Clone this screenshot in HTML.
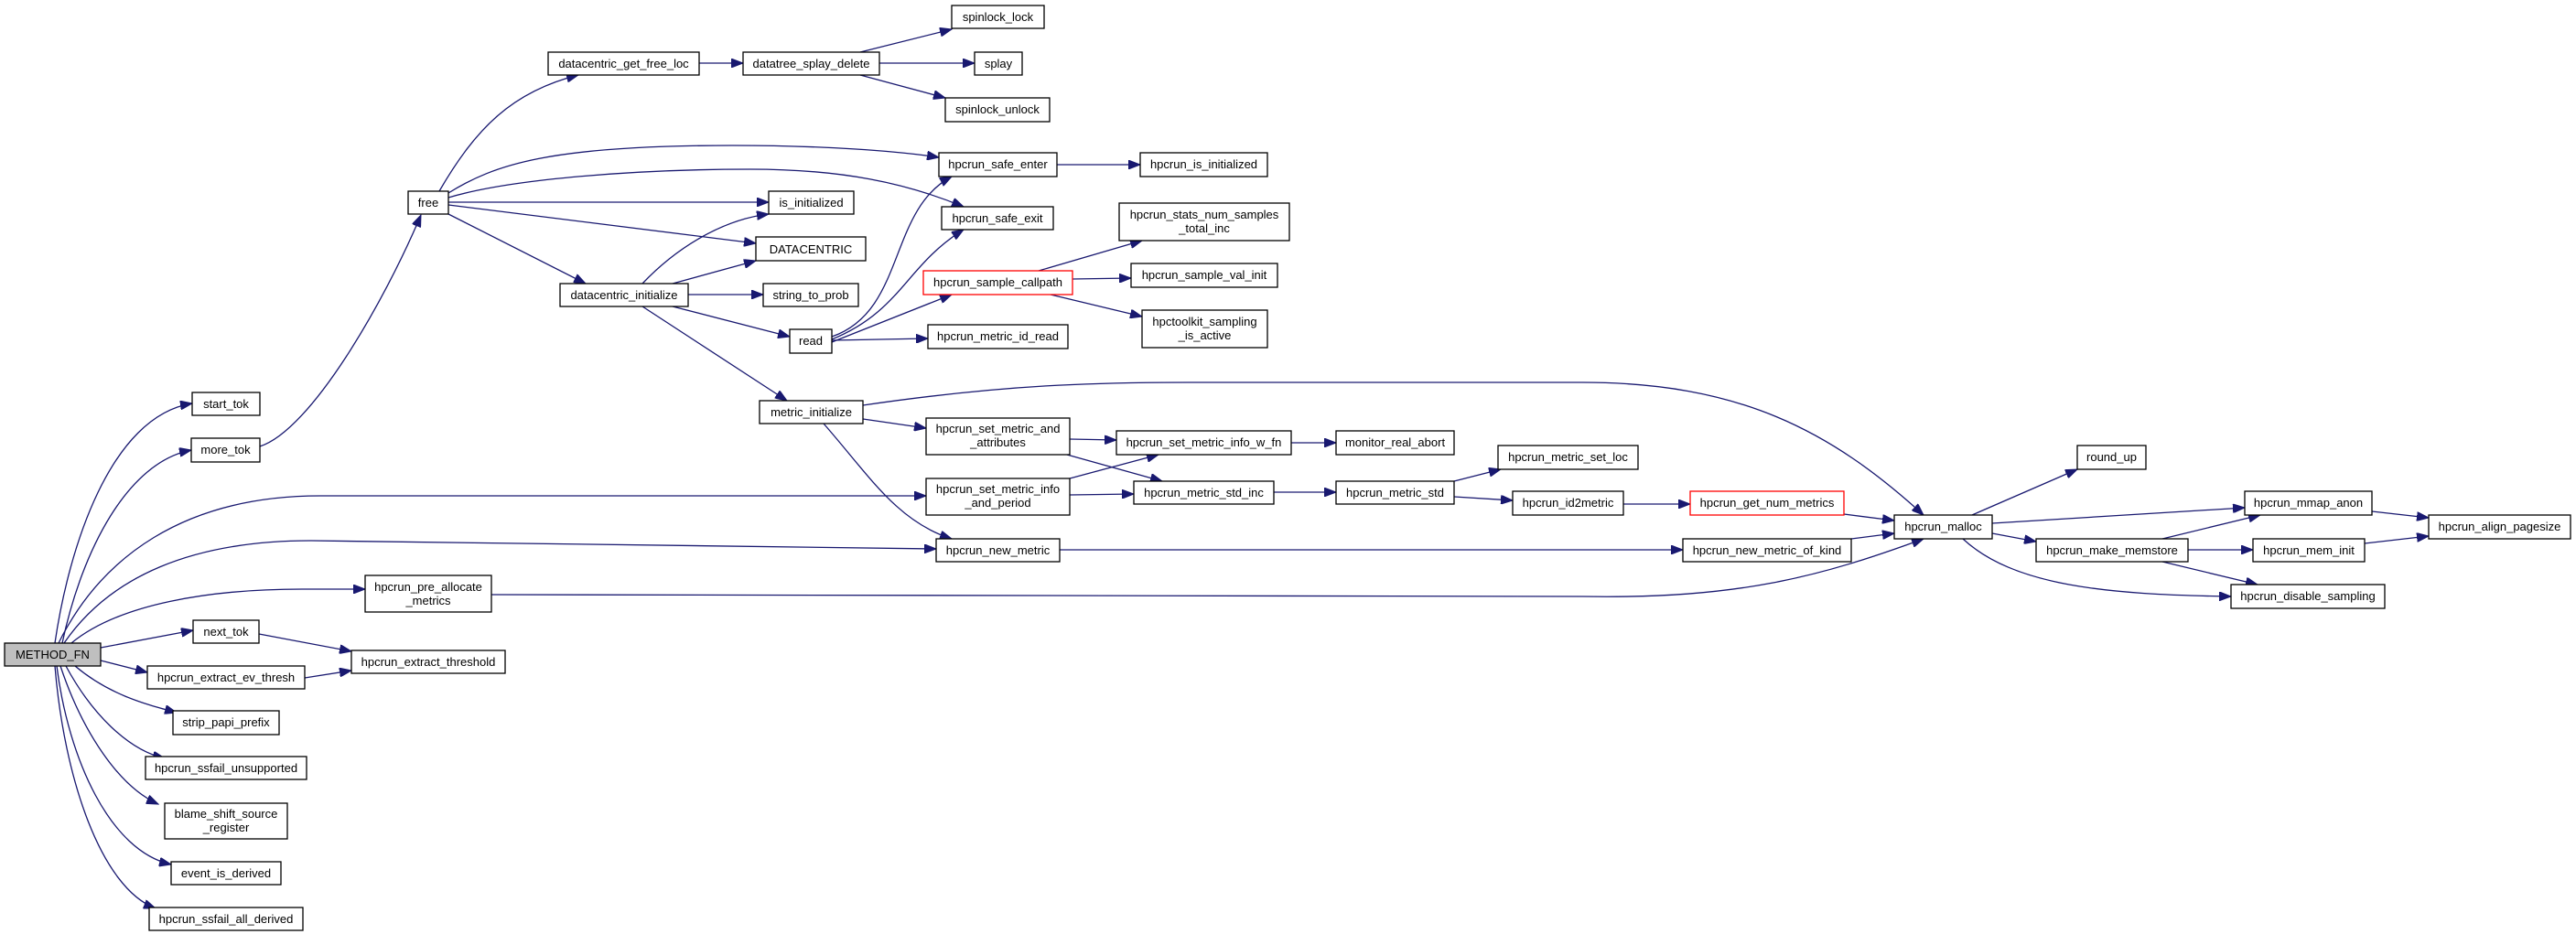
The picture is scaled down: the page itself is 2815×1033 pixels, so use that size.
<!DOCTYPE html>
<html><head><meta charset="utf-8"><style>
html,body{margin:0;padding:0;background:#fff;}
svg{display:block;}
text{font-family:"Liberation Sans",Arial,sans-serif;font-size:13px;text-anchor:middle;fill:#000;}
.n{fill:#fff;stroke:#000;stroke-width:1.3;}
.r{fill:#fff;stroke:#ff0000;stroke-width:1.3;}
.e{fill:none;stroke:#191970;stroke-width:1.3;marker-end:url(#a);}
</style></head><body>
<svg width="2815" height="1033" viewBox="0 0 2815 1033" xmlns="http://www.w3.org/2000/svg">
<defs><marker id="a" markerUnits="userSpaceOnUse" markerWidth="14" markerHeight="10" refX="13" refY="5" orient="auto"><path d="M0,0 L13,5 L0,10 Z" fill="#191970" stroke="#191970"/></marker></defs>

<!-- edges -->
<path class="e" d="M60,703 C75,600 120,455 210,441"/>
<path class="e" d="M68,703 C90,600 140,505 209,492"/>
<path class="e" d="M64,703 C110,610 200,542 350,542 L1012,542"/>
<path class="e" d="M70,703 C120,630 210,591 340,591 L1023,600"/>
<path class="e" d="M78,703 C130,660 230,644 330,644 L399,644"/>
<path class="e" d="M110,708 L211,689"/>
<path class="e" d="M110,722 L161,735"/>
<path class="e" d="M82,728 C120,760 160,770 193,779"/>
<path class="e" d="M72,728 C100,780 140,820 180,829"/>
<path class="e" d="M66,728 C90,800 130,860 173,879"/>
<path class="e" d="M62,728 C75,830 120,930 187,945"/>
<path class="e" d="M60,728 C70,850 110,970 170,993"/>
<path class="e" d="M283,693 L384,712"/>
<path class="e" d="M333,741 L384,733"/>
<path class="e" d="M284,488 C340,470 420,330 460,235"/>
<path class="e" d="M480,209 C520,140 560,100 632,82"/>
<path class="e" d="M490,211 C540,180 600,159 800,159 C900,159 980,165 1026,172"/>
<path class="e" d="M490,216 C560,195 700,185 820,185 C920,185 990,200 1053,226"/>
<path class="e" d="M490,221 L840,221"/>
<path class="e" d="M490,224 L826,266"/>
<path class="e" d="M490,234 L640,310"/>
<path class="e" d="M764,69 L812,69"/>
<path class="e" d="M940,57 L1040,32"/>
<path class="e" d="M961,69 L1065,69"/>
<path class="e" d="M940,82 L1033,107"/>
<path class="e" d="M702,310 C740,270 790,240 840,234"/>
<path class="e" d="M735,310 L826,285"/>
<path class="e" d="M752,322 L834,322"/>
<path class="e" d="M735,335 L863,368"/>
<path class="e" d="M702,335 L860,438"/>
<path class="e" d="M909,368 C990,340 970,230 1040,193"/>
<path class="e" d="M909,371 C985,340 990,290 1053,251"/>
<path class="e" d="M909,374 L1040,322"/>
<path class="e" d="M909,372 L1014,370"/>
<path class="e" d="M1155,180 L1246,180"/>
<path class="e" d="M1135,296 L1248,263"/>
<path class="e" d="M1172,305 L1236,304"/>
<path class="e" d="M1148,322 L1248,346"/>
<path class="e" d="M943,443 C1100,420 1200,418 1300,418 L1729,418 C1900,418 2000,470 2102,563"/>
<path class="e" d="M943,458 L1012,468"/>
<path class="e" d="M900,463 C950,520 980,570 1040,589"/>
<path class="e" d="M1169,480 L1220,481"/>
<path class="e" d="M1166,497 L1270,526"/>
<path class="e" d="M1169,523 L1266,497"/>
<path class="e" d="M1169,541 L1239,540"/>
<path class="e" d="M1411,484 L1460,484"/>
<path class="e" d="M1392,538 L1460,538"/>
<path class="e" d="M1589,526 L1640,513"/>
<path class="e" d="M1589,543 L1653,547"/>
<path class="e" d="M1774,551 L1847,551"/>
<path class="e" d="M1158,601 L1839,601"/>
<path class="e" d="M2015,562 L2070,569"/>
<path class="e" d="M2023,589 L2070,583"/>
<path class="e" d="M537,650 L1729,652 C1900,655 1990,630 2102,589"/>
<path class="e" d="M2155,563 L2270,513"/>
<path class="e" d="M2177,572 L2453,555"/>
<path class="e" d="M2177,583 L2225,592"/>
<path class="e" d="M2145,589 C2200,640 2300,650 2438,652"/>
<path class="e" d="M2363,589 L2470,563"/>
<path class="e" d="M2391,601 L2462,601"/>
<path class="e" d="M2363,614 L2467,639"/>
<path class="e" d="M2592,559 L2654,566"/>
<path class="e" d="M2584,594 L2654,586"/>

<!-- nodes -->
<rect x="5" y="703" width="105" height="25" fill="#bfbfbf" stroke="#000" stroke-width="1.3"/><text x="57.5" y="720">METHOD_FN</text>
<rect class="n" x="210" y="429" width="74" height="25"/><text x="247" y="446">start_tok</text>
<rect class="n" x="209" y="479" width="75" height="26"/><text x="246.5" y="496">more_tok</text>
<rect class="n" x="399" y="629" width="138" height="40"/><text x="468" y="646">hpcrun_pre_allocate</text><text x="468" y="661">_metrics</text>
<rect class="n" x="211" y="678" width="72" height="25"/><text x="247" y="695">next_tok</text>
<rect class="n" x="384" y="711" width="168" height="25"/><text x="468" y="728">hpcrun_extract_threshold</text>
<rect class="n" x="161" y="728" width="172" height="25"/><text x="247" y="745">hpcrun_extract_ev_thresh</text>
<rect class="n" x="189" y="777" width="116" height="26"/><text x="247" y="794">strip_papi_prefix</text>
<rect class="n" x="159" y="827" width="176" height="25"/><text x="247" y="844">hpcrun_ssfail_unsupported</text>
<rect class="n" x="180" y="878" width="134" height="39"/><text x="247" y="894">blame_shift_source</text><text x="247" y="909">_register</text>
<rect class="n" x="187" y="942" width="120" height="25"/><text x="247" y="959">event_is_derived</text>
<rect class="n" x="163" y="992" width="168" height="25"/><text x="247" y="1009">hpcrun_ssfail_all_derived</text>

<rect class="n" x="446" y="209" width="44" height="25"/><text x="468" y="226">free</text>
<rect class="n" x="599" y="57" width="165" height="25"/><text x="681.5" y="74">datacentric_get_free_loc</text>
<rect class="n" x="812" y="57" width="149" height="25"/><text x="886.5" y="74">datatree_splay_delete</text>
<rect class="n" x="1040" y="6" width="101" height="25"/><text x="1090.5" y="23">spinlock_lock</text>
<rect class="n" x="1065" y="57" width="52" height="25"/><text x="1091" y="74">splay</text>
<rect class="n" x="1033" y="107" width="114" height="26"/><text x="1090" y="124">spinlock_unlock</text>
<rect class="n" x="840" y="209" width="93" height="25"/><text x="886.5" y="226">is_initialized</text>
<rect class="n" x="826" y="259" width="120" height="26"/><text x="886" y="277">DATACENTRIC</text>
<rect class="n" x="612" y="310" width="140" height="25"/><text x="682" y="327">datacentric_initialize</text>
<rect class="n" x="834" y="310" width="104" height="25"/><text x="886" y="327">string_to_prob</text>
<rect class="n" x="863" y="360" width="46" height="26"/><text x="886" y="377">read</text>
<rect class="n" x="830" y="438" width="113" height="25"/><text x="886.5" y="455">metric_initialize</text>

<rect class="n" x="1026" y="167" width="129" height="26"/><text x="1090.5" y="184">hpcrun_safe_enter</text>
<rect class="n" x="1246" y="167" width="139" height="26"/><text x="1315.5" y="184">hpcrun_is_initialized</text>
<rect class="n" x="1029" y="226" width="122" height="25"/><text x="1090" y="243">hpcrun_safe_exit</text>
<rect class="n" x="1223" y="222" width="186" height="41"/><text x="1316" y="239">hpcrun_stats_num_samples</text><text x="1316" y="254">_total_inc</text>
<rect class="r" x="1009" y="296" width="163" height="26"/><text x="1090.5" y="313">hpcrun_sample_callpath</text>
<rect class="n" x="1236" y="288" width="160" height="26"/><text x="1316" y="305">hpcrun_sample_val_init</text>
<rect class="n" x="1248" y="339" width="137" height="41"/><text x="1316.5" y="356">hpctoolkit_sampling</text><text x="1316.5" y="371">_is_active</text>
<rect class="n" x="1014" y="355" width="153" height="26"/><text x="1090.5" y="372">hpcrun_metric_id_read</text>

<rect class="n" x="1012" y="457" width="157" height="40"/><text x="1090.5" y="473">hpcrun_set_metric_and</text><text x="1090.5" y="488">_attributes</text>
<rect class="n" x="1220" y="471" width="191" height="26"/><text x="1315.5" y="488">hpcrun_set_metric_info_w_fn</text>
<rect class="n" x="1460" y="471" width="129" height="26"/><text x="1524.5" y="488">monitor_real_abort</text>
<rect class="n" x="1637" y="487" width="153" height="26"/><text x="1713.5" y="504">hpcrun_metric_set_loc</text>
<rect class="n" x="1012" y="523" width="157" height="40"/><text x="1090.5" y="539">hpcrun_set_metric_info</text><text x="1090.5" y="554">_and_period</text>
<rect class="n" x="1239" y="526" width="153" height="25"/><text x="1315.5" y="543">hpcrun_metric_std_inc</text>
<rect class="n" x="1460" y="526" width="129" height="25"/><text x="1524.5" y="543">hpcrun_metric_std</text>
<rect class="n" x="1653" y="537" width="121" height="26"/><text x="1713.5" y="554">hpcrun_id2metric</text>
<rect class="n" x="1023" y="589" width="135" height="25"/><text x="1090.5" y="606">hpcrun_new_metric</text>

<rect class="r" x="1847" y="537" width="168" height="26"/><text x="1931" y="554">hpcrun_get_num_metrics</text>
<rect class="n" x="1839" y="589" width="184" height="25"/><text x="1931" y="606">hpcrun_new_metric_of_kind</text>
<rect class="n" x="2070" y="563" width="107" height="26"/><text x="2123.5" y="580">hpcrun_malloc</text>
<rect class="n" x="2270" y="487" width="75" height="26"/><text x="2307.5" y="504">round_up</text>
<rect class="n" x="2453" y="537" width="139" height="26"/><text x="2522.5" y="554">hpcrun_mmap_anon</text>
<rect class="n" x="2654" y="563" width="155" height="26"/><text x="2731.5" y="580">hpcrun_align_pagesize</text>
<rect class="n" x="2225" y="589" width="166" height="25"/><text x="2308" y="606">hpcrun_make_memstore</text>
<rect class="n" x="2462" y="589" width="122" height="25"/><text x="2523" y="606">hpcrun_mem_init</text>
<rect class="n" x="2438" y="639" width="168" height="26"/><text x="2522" y="656">hpcrun_disable_sampling</text>
</svg>
</body></html>
